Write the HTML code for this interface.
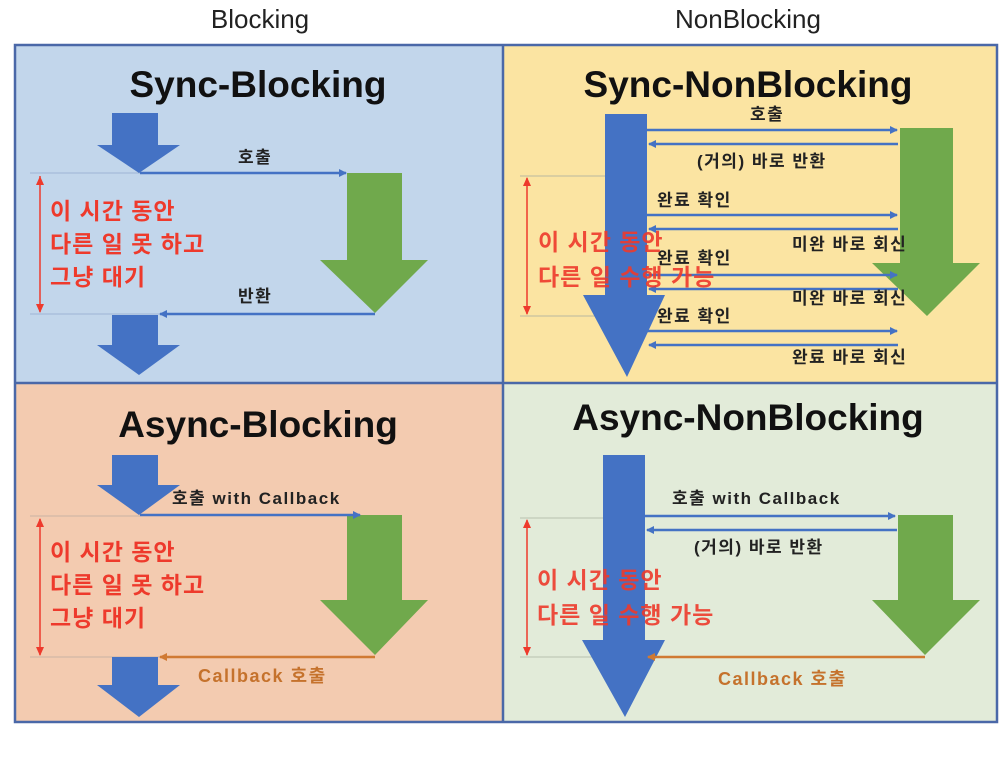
<!DOCTYPE html>
<html><head><meta charset="utf-8"><style>
html,body{margin:0;padding:0;background:#fff;}
svg{display:block}
text{font-family:"Liberation Sans","Noto Sans CJK KR",sans-serif;}
.t{font-size:37px;font-weight:bold;fill:#111;text-anchor:middle}
.h{font-size:26px;fill:#222;text-anchor:middle}
.l{font-size:17px;font-weight:bold;fill:#222;letter-spacing:1.5px}
.r{font-size:23px;font-weight:bold;fill:#ee3a2c;letter-spacing:1px}
.o{font-size:18px;font-weight:bold;fill:#c5722c;letter-spacing:1.5px}
</style></head><body>
<svg width="1008" height="773" viewBox="0 0 1008 773" xmlns="http://www.w3.org/2000/svg">
<defs>
<marker id="ab" markerWidth="8" markerHeight="8" refX="7" refY="4" orient="auto" markerUnits="userSpaceOnUse"><path d="M0,0 L8,4 L0,8 z" fill="#4472c4"/></marker>
<marker id="ao" markerWidth="8" markerHeight="8" refX="7" refY="4" orient="auto" markerUnits="userSpaceOnUse"><path d="M0,0 L8,4 L0,8 z" fill="#d07a33"/></marker>
</defs>
<text class="h" x="260" y="28">Blocking</text>
<text class="h" x="748" y="28">NonBlocking</text>
<rect x="15" y="45" width="488" height="338" fill="#c2d6eb"/>
<rect x="503" y="45" width="494" height="338" fill="#fbe4a2"/>
<rect x="15" y="383" width="488" height="339" fill="#f3cbb0"/>
<rect x="503" y="383" width="494" height="339" fill="#e2ebd9"/>
<g stroke="#4a68a8" stroke-width="2.5" fill="none">
<rect x="15" y="45" width="982" height="677"/>
<line x1="503" y1="45" x2="503" y2="722"/><line x1="15" y1="383" x2="997" y2="383"/>
</g>
<!-- TL -->
<text class="t" x="258" y="97">Sync-Blocking</text>
<g stroke="#9fb4d4" stroke-width="1"><line x1="30" y1="173" x2="140" y2="173"/><line x1="30" y1="314" x2="160" y2="314"/></g>
<path d="M112,113 H158 V145 H180 L139,173 L97,145 H112 Z" fill="#4472c4"/>
<path d="M347,173 H402 V260 H428 L375,313 L320,260 H347 Z" fill="#70a94c"/>
<path d="M112,315 H158 V345 H180 L139,375 L97,345 H112 Z" fill="#4472c4"/>
<line x1="140" y1="173" x2="346" y2="173" stroke="#4472c4" stroke-width="2.5" marker-end="url(#ab)"/>
<line x1="375" y1="314" x2="160" y2="314" stroke="#4472c4" stroke-width="2.5" marker-end="url(#ab)"/>
<line x1="40" y1="176" x2="40" y2="312" stroke="#ee3a2c" stroke-width="1.5"/>
<path d="M36,185 L40,176 L44,185 Z M36,304 L40,313 L44,304 Z" fill="#ee3a2c"/>
<text class="l" x="238" y="163">호출</text>
<text class="l" x="238" y="302">반환</text>
<text class="r" x="50" y="219">이 시간 동안</text>
<text class="r" x="50" y="252">다른 일 못 하고</text>
<text class="r" x="50" y="285">그냥 대기</text>
<!-- TR -->
<text class="t" x="748" y="97">Sync-NonBlocking</text>
<g stroke="#b9b8a0" stroke-width="1"><line x1="520" y1="176" x2="606" y2="176"/><line x1="520" y1="316" x2="606" y2="316"/></g>
<path d="M605,114 H647 V295 H665 L627,377 L583,295 H605 Z" fill="#4472c4"/>
<path d="M900,128 H953 V263 H980 L927,316 L872,263 H900 Z" fill="#70a94c"/>
<g stroke="#4472c4" stroke-width="2.5">
<line x1="647" y1="130" x2="897" y2="130" marker-end="url(#ab)"/><line x1="898" y1="144" x2="649" y2="144" marker-end="url(#ab)"/>
<line x1="647" y1="215" x2="897" y2="215" marker-end="url(#ab)"/><line x1="898" y1="229" x2="649" y2="229" marker-end="url(#ab)"/>
<line x1="647" y1="275" x2="897" y2="275" marker-end="url(#ab)"/><line x1="898" y1="289" x2="649" y2="289" marker-end="url(#ab)"/>
<line x1="647" y1="331" x2="897" y2="331" marker-end="url(#ab)"/><line x1="898" y1="345" x2="649" y2="345" marker-end="url(#ab)"/>
</g>
<line x1="527" y1="178" x2="527" y2="314" stroke="#ee3a2c" stroke-width="1.5"/>
<path d="M523,186 L527,177 L531,186 Z M523,306 L527,315 L531,306 Z" fill="#ee3a2c"/>
<text class="l" x="750" y="120">호출</text>
<text class="l" x="697" y="167">(거의) 바로 반환</text>
<text class="l" x="657" y="206">완료 확인</text>
<text class="l" x="792" y="250">미완 바로 회신</text>
<text class="l" x="657" y="264">완료 확인</text>
<text class="l" x="792" y="304">미완 바로 회신</text>
<text class="l" x="657" y="322">완료 확인</text>
<text class="l" x="792" y="363">완료 바로 회신</text>
<text class="r" x="538" y="250" opacity="0.9">이 시간 동안</text>
<text class="r" x="538" y="285" opacity="0.9">다른 일 수행 가능</text>
<!-- BL -->
<text class="t" x="258" y="437">Async-Blocking</text>
<g stroke="#c9b3a4" stroke-width="1"><line x1="30" y1="516" x2="140" y2="516"/><line x1="30" y1="657" x2="160" y2="657"/></g>
<path d="M112,455 H158 V485 H180 L139,515 L97,485 H112 Z" fill="#4472c4"/>
<path d="M347,515 H402 V600 H428 L375,655 L320,600 H347 Z" fill="#70a94c"/>
<path d="M112,657 H158 V685 H180 L139,717 L97,685 H112 Z" fill="#4472c4"/>
<line x1="140" y1="515" x2="360" y2="515" stroke="#4472c4" stroke-width="2.5" marker-end="url(#ab)"/>
<line x1="375" y1="657" x2="160" y2="657" stroke="#d07a33" stroke-width="2.5" marker-end="url(#ao)"/>
<line x1="40" y1="519" x2="40" y2="655" stroke="#ee3a2c" stroke-width="1.5"/>
<path d="M36,527 L40,518 L44,527 Z M36,647 L40,656 L44,647 Z" fill="#ee3a2c"/>
<text class="l" x="172" y="504">호출 with Callback</text>
<text class="o" x="198" y="682">Callback 호출</text>
<text class="r" x="50" y="560">이 시간 동안</text>
<text class="r" x="50" y="593">다른 일 못 하고</text>
<text class="r" x="50" y="626">그냥 대기</text>
<!-- BR -->
<text class="t" x="748" y="430">Async-NonBlocking</text>
<g stroke="#b8c2b0" stroke-width="1"><line x1="520" y1="518" x2="604" y2="518"/><line x1="520" y1="657" x2="604" y2="657"/></g>
<path d="M603,455 H645 V640 H665 L625,717 L582,640 H603 Z" fill="#4472c4"/>
<path d="M898,515 H953 V600 H980 L925,655 L872,600 H898 Z" fill="#70a94c"/>
<line x1="645" y1="516" x2="895" y2="516" stroke="#4472c4" stroke-width="2.5" marker-end="url(#ab)"/>
<line x1="897" y1="530" x2="647" y2="530" stroke="#4472c4" stroke-width="2.5" marker-end="url(#ab)"/>
<line x1="925" y1="657" x2="648" y2="657" stroke="#d07a33" stroke-width="2.5" marker-end="url(#ao)"/>
<line x1="527" y1="520" x2="527" y2="655" stroke="#ee3a2c" stroke-width="1.5"/>
<path d="M523,528 L527,519 L531,528 Z M523,647 L527,656 L531,647 Z" fill="#ee3a2c"/>
<text class="l" x="672" y="504">호출 with Callback</text>
<text class="l" x="694" y="553">(거의) 바로 반환</text>
<text class="o" x="718" y="685">Callback 호출</text>
<text class="r" x="537" y="588" opacity="0.9">이 시간 동안</text>
<text class="r" x="537" y="623" opacity="0.9">다른 일 수행 가능</text>
</svg>
</body></html>
